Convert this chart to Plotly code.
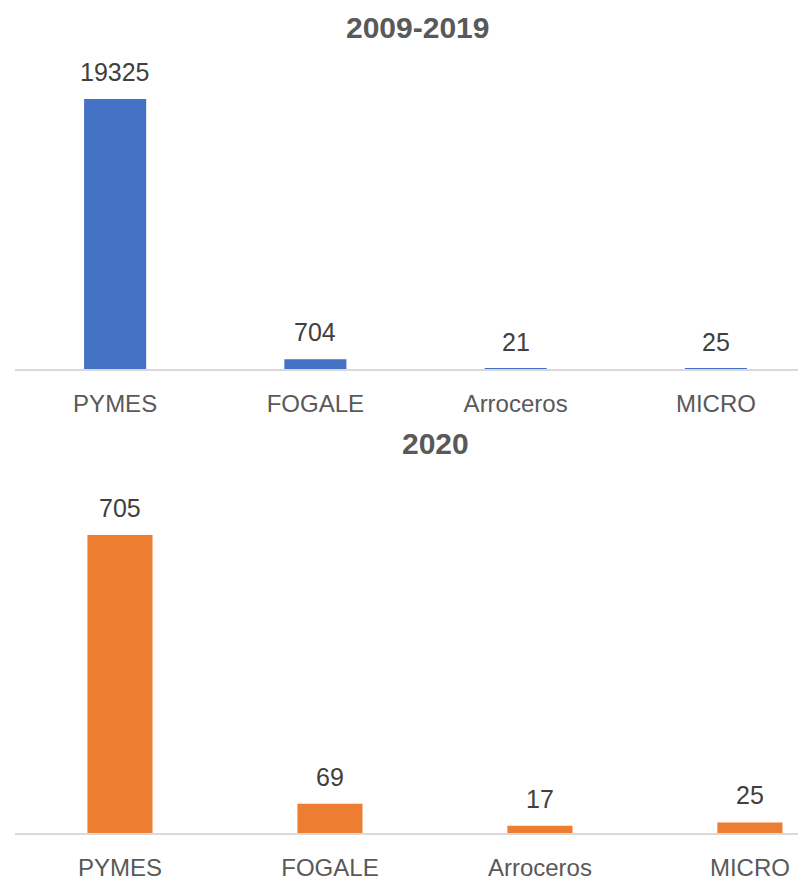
import plotly.graph_objects as go

categorias = ["PYMES", "FOGALE", "Arroceros", "MICRO"]
valores_2009_2019 = [19325, 704, 21, 25]
valores_2020 = [705, 69, 17, 25]
titulo_1 = "2009-2019"
titulo_2 = "2020"

W, H = 798, 884
fuente = "Liberation Sans"
gris = "#595959"
gris_texto = "#404040"


def py(pix):
    # pixel desde arriba -> fraccion de papel
    return (H - pix) / H


fig = go.Figure()

fig.add_trace(go.Bar(
    x=categorias, y=valores_2009_2019,
    marker=dict(color="#4472C4", line=dict(width=0)),
    width=0.31, xaxis="x", yaxis="y", hoverinfo="x+y"
))
fig.add_trace(go.Bar(
    x=categorias, y=valores_2020,
    marker=dict(color="#ED7D31", line=dict(width=0)),
    width=0.31, xaxis="x2", yaxis="y2", hoverinfo="x+y"
))

anotaciones = []
for c, v in zip(categorias, valores_2009_2019):
    anotaciones.append(dict(
        x=c, y=v, xref="x", yref="y", text=str(v), showarrow=False,
        yanchor="bottom", yshift=11,
        font=dict(family=fuente, size=25, color=gris_texto)
    ))
for c, v in zip(categorias, valores_2020):
    anotaciones.append(dict(
        x=c, y=v, xref="x2", yref="y2", text=str(v), showarrow=False,
        yanchor="bottom", yshift=11,
        font=dict(family=fuente, size=25, color=gris_texto)
    ))

anotaciones.append(dict(
    x=417 / W, y=py(27), xref="paper", yref="paper", text="<b>" + titulo_1 + "</b>",
    showarrow=False, xanchor="center", yanchor="middle",
    font=dict(family=fuente, size=30, color=gris)
))
anotaciones.append(dict(
    x=435 / W, y=py(443), xref="paper", yref="paper", text="<b>" + titulo_2 + "</b>",
    showarrow=False, xanchor="center", yanchor="middle",
    font=dict(family=fuente, size=30, color=gris)
))

eje_x = dict(
    type="category", showgrid=False, zeroline=False,
    showline=True, linecolor="#D9D9D9", linewidth=1.5,
    ticks="", tickfont=dict(family=fuente, size=24, color=gris),
    ticklabelstandoff=12,
    fixedrange=True,
)
eje_y = dict(visible=False, showgrid=False, zeroline=False, fixedrange=True)

fig.update_layout(
    width=W, height=H,
    margin=dict(l=0, r=0, t=0, b=0),
    paper_bgcolor="white", plot_bgcolor="white",
    showlegend=False,
    bargap=0.69,
    annotations=anotaciones,
    xaxis=dict(eje_x, domain=[15 / W, 1], range=[-0.5, 3.41], anchor="y"),
    yaxis=dict(eje_y, domain=[py(369), py(60)], range=[0, 19325 * 309 / 270], anchor="x"),
    xaxis2=dict(eje_x, domain=[15 / W, 1], range=[-0.5, 3.229], anchor="y2"),
    yaxis2=dict(eje_y, domain=[py(833), py(500)], range=[0, 705 * 333 / 298], anchor="x2"),
)

fig.write_html(
    "out.html",
    config={"displayModeBar": False},
    post_script="document.body.style.margin='0';document.body.style.overflow='hidden';",
)
